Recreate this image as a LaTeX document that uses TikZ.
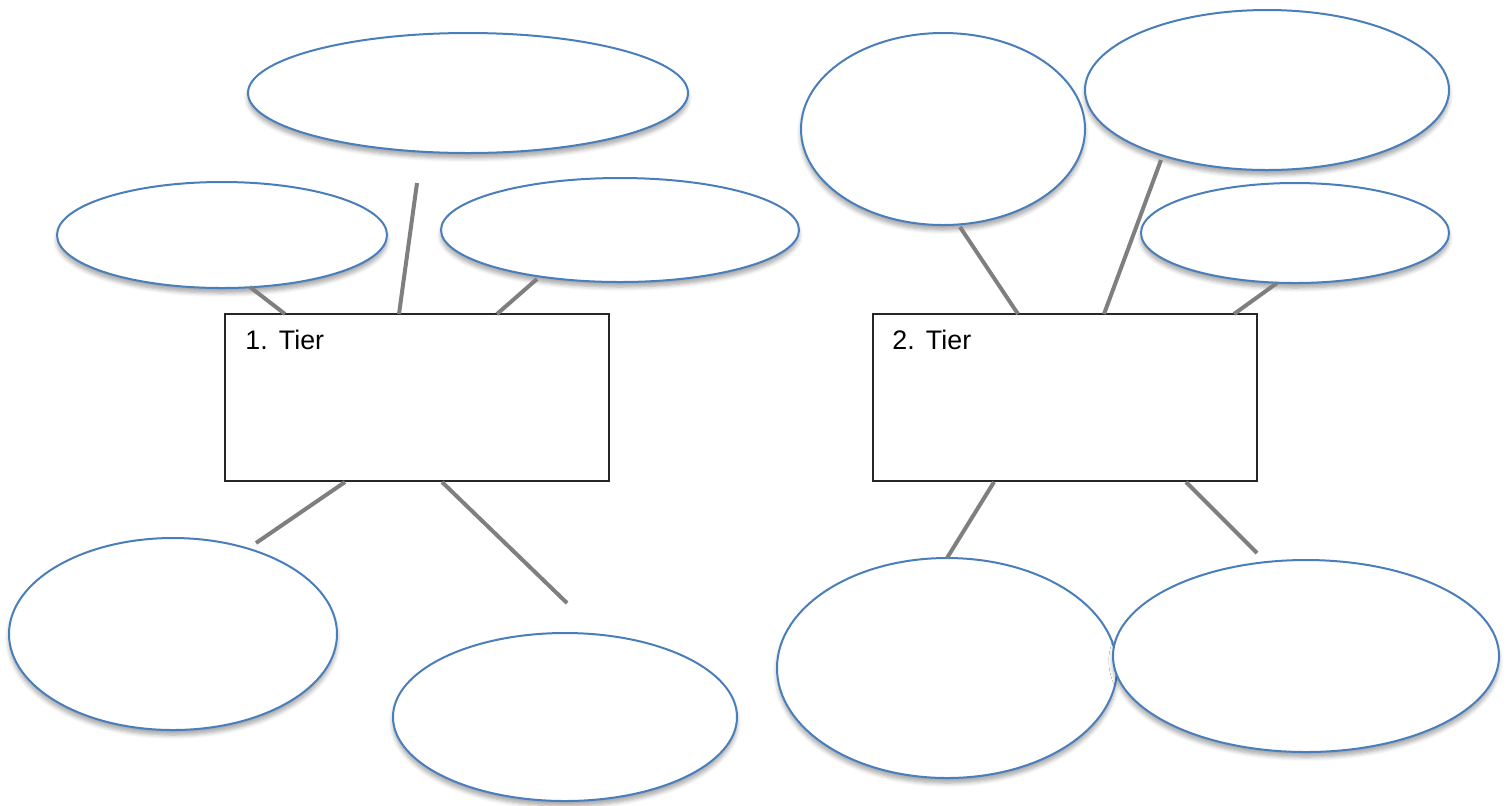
\documentclass[tikz,border=0pt]{standalone}
\usepackage{fontspec}
\setmainfont{Liberation Sans}
\usetikzlibrary{shapes.geometric,shadows.blur}
\definecolor{bubbleblue}{HTML}{4A7EBB}
\definecolor{linkgray}{HTML}{7F7F7F}
\tikzset{
  bubble/.style={ellipse, draw=bubbleblue, line width=1pt, fill=white,
    inner sep=0pt, outer sep=0pt,
    blur shadow={shadow xshift=0pt, shadow yshift=-2.5pt, shadow blur steps=6, shadow opacity=35}},
  tierbox/.style={rectangle, draw=black!85, line width=0.6pt, fill=white,
    inner sep=0pt, minimum width=192pt, minimum height=83.5pt},
  tierlabel/.style={anchor=base west, inner sep=0pt, font=\fontsize{13.4}{15}\selectfont},
  link/.style={draw=linkgray, line width=2pt}
}
\begin{document}
\begin{tikzpicture}[x=0.5pt, y=-0.5pt]
\useasboundingbox (0,0) rectangle (1508,805);

% ---- left cluster ----
\node[bubble, minimum width=220pt, minimum height=60pt] (l1) at (468,93) {};
\node[bubble, minimum width=165pt, minimum height=53pt] (l2) at (222,235) {};
\node[bubble, minimum width=179pt, minimum height=52pt] (l3) at (620,230) {};
\node[bubble, minimum width=164pt, minimum height=96pt] (l4) at (173,634) {};
\node[bubble, minimum width=172pt, minimum height=84pt] (l5) at (565,717) {};

\node[tierbox] (b1) at (417,397.5) {};
\node[tierlabel] (t1) at (245,349) {1.\hspace{0.42em}Tier};

% connector end points, left
\coordinate (a1) at (250,287);  \coordinate (a1b) at (285,314);
\coordinate (a2) at (417,183);  \coordinate (a2b) at (399,314);
\coordinate (a3) at (537,279);  \coordinate (a3b) at (497,314);
\coordinate (a4) at (256,543);  \coordinate (a4b) at (345,482);
\coordinate (a5) at (567,603);  \coordinate (a5b) at (442,482);

\draw[link] (a1) -- (a1b);
\draw[link] (a2) -- (a2b);
\draw[link] (a3) -- (a3b);
\draw[link] (a4b) -- (a4);
\draw[link] (a5b) -- (a5);

% ---- right cluster ----
\node[bubble, minimum width=142pt, minimum height=96pt] (r1) at (943,129) {};
\node[bubble, minimum width=182pt, minimum height=80pt] (r2) at (1267,90) {};
\node[bubble, minimum width=154pt, minimum height=50pt] (r3) at (1295,233) {};
\node[bubble, minimum width=170pt, minimum height=110pt] (r4) at (947,668) {};
\node[bubble, minimum width=193pt, minimum height=96pt] (r5) at (1306,656) {};

\node[tierbox] (b2) at (1065,397.5) {};
\node[tierlabel] (t2) at (892,349) {2.\hspace{0.42em}Tier};

% connector end points, right
\coordinate (c1) at (960,227);   \coordinate (c1b) at (1018,314);
\coordinate (c2) at (1161,160);  \coordinate (c2b) at (1104,314);
\coordinate (c3) at (1277,283);  \coordinate (c3b) at (1234,314);
\coordinate (c4) at (947,558);   \coordinate (c4b) at (994,482);
\coordinate (c5) at (1257,553);  \coordinate (c5b) at (1186,482);

\draw[link] (c1) -- (c1b);
\draw[link] (c2) -- (c2b);
\draw[link] (c3) -- (c3b);
\draw[link] (c4b) -- (c4);
\draw[link] (c5b) -- (c5);
\end{tikzpicture}
\end{document}
